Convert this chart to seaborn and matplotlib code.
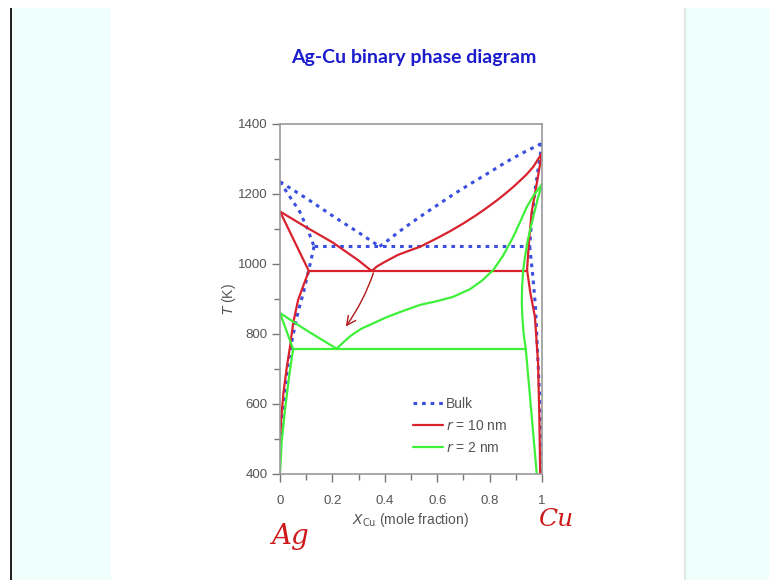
import numpy as np
import pandas as pd
import matplotlib
matplotlib.use('Agg')
import matplotlib.pyplot as plt
from matplotlib.patches import Rectangle
from matplotlib.ticker import MultipleLocator
import seaborn as sns

sns.set_style('white')
plt.rcParams['font.family'] = ['Liberation Sans', 'DejaVu Sans']

# Bulk (dotted blue)
bulk_liq_l_x = [0, 0.1, 0.216, 0.3, 0.38]
bulk_liq_l_t = [1235, 1188, 1130, 1090, 1050]
bulk_sol_l_x = [0, 0.035, 0.075, 0.105, 0.13]
bulk_sol_l_t = [1235, 1195, 1150, 1100, 1050]
bulk_svs_l_x = [0.13, 0.115, 0.09, 0.068, 0.048, 0.032, 0.018, 0.007, 0]
bulk_svs_l_t = [1050, 1000, 920, 860, 790, 720, 640, 560, 480]
bulk_eut_x = [0.13, 0.955]
bulk_eut_t = [1050, 1050]
bulk_liq_r_x = [0.38, 0.42, 0.45, 0.5, 0.55, 0.6, 0.66, 0.72, 0.8, 0.86, 0.92, 0.96, 1.0]
bulk_liq_r_t = [1050, 1072, 1090, 1117, 1143, 1168, 1198, 1226, 1262, 1290, 1315, 1330, 1345]
bulk_sol_r_x = [1.0, 0.985, 0.97, 0.96, 0.953]
bulk_sol_r_t = [1345, 1270, 1190, 1120, 1050]
bulk_svs_r_x = [0.953, 0.963, 0.975, 0.985, 0.991, 0.996, 0.998]
bulk_svs_r_t = [1050, 980, 880, 717, 620, 500, 400]

# r = 10 nm (red)
r10_liq_l_x = [0, 0.1, 0.2, 0.3, 0.35]
r10_liq_l_t = [1150, 1105, 1062, 1010, 980]
r10_sol_l_x = [0, 0.11]
r10_sol_l_t = [1150, 980]
r10_svs_l_x = [0.11, 0.09, 0.069, 0.05, 0.038, 0.025, 0.013, 0.005, 0]
r10_svs_l_t = [980, 940, 897, 830, 763, 700, 631, 560, 490]
r10_eut_x = [0.11, 0.94]
r10_eut_t = [980, 980]
r10_liq_r_x = [0.35, 0.37, 0.4, 0.45, 0.5, 0.534, 0.6, 0.65, 0.7, 0.75, 0.79,
               0.83, 0.86, 0.89, 0.916, 0.94, 0.966, 1.0]
r10_liq_r_t = [980, 993, 1006, 1026, 1040, 1049, 1074, 1094, 1116, 1140, 1161,
               1183, 1201, 1220, 1238, 1255, 1277, 1317]
r10_sol_r_x = [1.0, 0.98, 0.96, 0.95, 0.943]
r10_sol_r_t = [1317, 1230, 1146, 1060, 983]
r10_svs_r_x = [0.943, 0.955, 0.973, 0.985, 0.99, 0.993]
r10_svs_r_t = [983, 920, 849, 717, 560, 400]

# r = 2 nm (green)
r2_liq_l_x = [0, 0.1, 0.216]
r2_liq_l_t = [860, 811, 758]
r2_sol_l_x = [0, 0.05]
r2_sol_l_t = [860, 757]
r2_svs_l_x = [0.05, 0.035, 0.019, 0.006, 0]
r2_svs_l_t = [757, 680, 583, 489, 400]
r2_eut_x = [0.05, 0.938]
r2_eut_t = [757, 757]
r2_liq_r_x = [0.216, 0.24, 0.27, 0.31, 0.36, 0.41, 0.47, 0.534, 0.6, 0.66, 0.725,
              0.77, 0.814, 0.85, 0.89, 0.915, 0.942, 0.97, 1.0]
r2_liq_r_t = [758, 775, 795, 815, 832, 849, 866, 883, 894, 906, 928,
              952, 983, 1022, 1077, 1118, 1163, 1198, 1228]
r2_sol_r_x = [1.0, 0.985, 0.97, 0.957, 0.945, 0.935, 0.928, 0.924, 0.923, 0.925, 0.93, 0.938]
r2_sol_r_t = [1228, 1190, 1145, 1105, 1065, 1020, 980, 934, 890, 849, 800, 757]
r2_svs_r_x = [0.938, 0.952, 0.966, 0.98]
r2_svs_r_t = [757, 640, 520, 400]

series = {
    'Bulk': [(bulk_liq_l_x, bulk_liq_l_t), (bulk_sol_l_x, bulk_sol_l_t),
             (bulk_svs_l_x, bulk_svs_l_t), (bulk_eut_x, bulk_eut_t),
             (bulk_liq_r_x, bulk_liq_r_t), (bulk_sol_r_x, bulk_sol_r_t),
             (bulk_svs_r_x, bulk_svs_r_t)],
    '10nm': [(r10_liq_l_x, r10_liq_l_t), (r10_sol_l_x, r10_sol_l_t),
             (r10_svs_l_x, r10_svs_l_t), (r10_eut_x, r10_eut_t),
             (r10_liq_r_x, r10_liq_r_t), (r10_sol_r_x, r10_sol_r_t),
             (r10_svs_r_x, r10_svs_r_t)],
    '2nm': [(r2_liq_l_x, r2_liq_l_t), (r2_sol_l_x, r2_sol_l_t),
            (r2_svs_l_x, r2_svs_l_t), (r2_eut_x, r2_eut_t),
            (r2_liq_r_x, r2_liq_r_t), (r2_sol_r_x, r2_sol_r_t),
            (r2_svs_r_x, r2_svs_r_t)],
}
styles = {
    'Bulk': dict(color='#3a4ee0', linestyle=(0, (1.2, 1.6)), linewidth=2.2),
    '10nm': dict(color='#d8232e', linestyle='-', linewidth=1.6),
    '2nm': dict(color='#3ef03a', linestyle='-', linewidth=1.6),
}
labels = {'Bulk': 'Bulk', '10nm': r'$r$ = 10 nm', '2nm': r'$r$ = 2 nm'}

fig = plt.figure(figsize=(7.69, 5.80), dpi=100, facecolor='white')

# slide background panels
H = 580.0
W = 769.0
fig.patches.append(Rectangle((12 / W, 0), 99 / W, 1 - 8 / H, transform=fig.transFigure,
                             facecolor='#effffb', edgecolor='none', zorder=0))
fig.patches.append(Rectangle((10 / W, 0), 2.5 / W, 1 - 8 / H, transform=fig.transFigure,
                             facecolor='#222222', edgecolor='none', zorder=0))
fig.patches.append(Rectangle((686 / W, 0), 83 / W, 1 - 8 / H, transform=fig.transFigure,
                             facecolor='#effffb', edgecolor='none', zorder=0))
fig.patches.append(Rectangle((684 / W, 0), 2 / W, 1 - 8 / H, transform=fig.transFigure,
                             facecolor='#e2e6e6', edgecolor='none', zorder=0))

ax = fig.add_axes([280 / W, 1 - 474 / H, 262 / W, 350 / H])

for key, parts in series.items():
    for i, (xs, ts) in enumerate(parts):
        df = pd.DataFrame({'x': xs, 'T': ts})
        sns.lineplot(data=df, x='x', y='T', sort=False, estimator=None, ax=ax,
                     label=labels[key] if i == 0 else None, **styles[key])

ax.set_xlim(0, 1)
ax.set_ylim(400, 1400)
ax.xaxis.set_minor_locator(MultipleLocator(0.1))
ax.yaxis.set_major_locator(MultipleLocator(200))
ax.yaxis.set_minor_locator(MultipleLocator(100))
ax.set_xticks([0, 0.2, 0.4, 0.6, 0.8, 1.0])
ax.set_xticklabels(['0', '0.2', '0.4', '0.6', '0.8', '1'])
ax.tick_params(axis='both', which='both', direction='out', bottom=True, left=True,
               colors='#777777', labelcolor='#555555', labelsize=9.5)
ax.tick_params(which='major', length=6, width=1)
ax.tick_params(which='minor', length=4, width=1)
ax.tick_params(axis='x', which='major', pad=9)
ax.tick_params(axis='y', which='major', pad=3)
for sp in ax.spines.values():
    sp.set_color('#999999')
    sp.set_linewidth(1.2)

ax.set_xlabel(r'$X_{\rm Cu}$ (mole fraction)', fontsize=10, color='#555555', labelpad=3)
ax.set_ylabel(r'$T$ (K)', fontsize=10, color='#555555', labelpad=0)

leg = ax.legend(loc='lower right', bbox_to_anchor=(0.915, 0.02), frameon=False,
                fontsize=10, handlelength=2.2, handletextpad=0.2, labelspacing=0.55)
for t in leg.get_texts():
    t.set_color('#555555')

# hand-drawn arrow from the 10 nm eutectic to the 2 nm one
ax.annotate('', xy=(0.245, 815), xytext=(0.36, 982),
            arrowprops=dict(arrowstyle='->', color='#b01818', lw=1.0,
                            connectionstyle='arc3,rad=-0.08', mutation_scale=16))

fig.text(414 / W, 1 - 58 / H, 'Ag-Cu binary phase diagram', ha='center', va='center',
         fontsize=14, fontweight='bold', color='#1c1ccc', family=['Lato', 'DejaVu Sans'])
fig.text(290 / W, 1 - 536 / H, 'Ag', ha='center', va='center', fontsize=20,
         style='italic', color='#cc1a1a', family=['DejaVu Serif'])
fig.text(556 / W, 1 - 520 / H, 'Cu', ha='center', va='center', fontsize=18,
         style='italic', color='#cc1a1a', family=['DejaVu Serif'])

fig.savefig('out.png', dpi=100, facecolor=fig.get_facecolor())
